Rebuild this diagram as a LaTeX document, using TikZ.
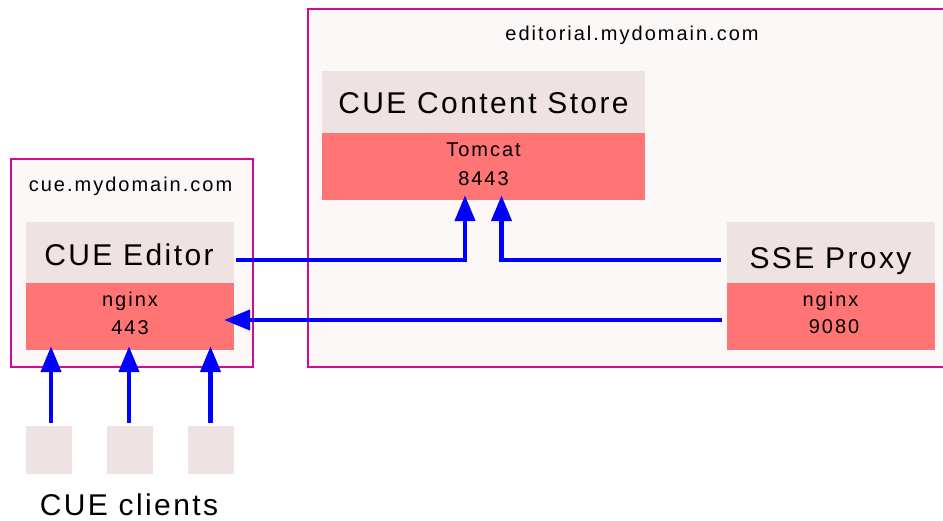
\documentclass[tikz,border=0pt]{standalone}
\usepackage{fontspec}
\setmainfont{Liberation Sans}
\newfontfamily\bigf{Liberation Sans}[LetterSpace=8]
\newfontfamily\smallf{Liberation Sans}[LetterSpace=10]
\usetikzlibrary{arrows.meta}
\definecolor{clusterc}{RGB}{210,10,150}
\definecolor{clusterbg}{RGB}{252,248,247}
\definecolor{lightc}{RGB}{238,226,226}
\definecolor{salmonc}{RGB}{255,117,117}
\definecolor{arrc}{RGB}{0,0,255}
\tikzset{
  cluster/.style={draw=clusterc, fill=clusterbg, line width=1.3pt},
  hdr/.style={fill=lightc, inner sep=0pt, minimum width=#1, minimum height=61pt},
  port/.style={fill=salmonc, inner sep=0pt, minimum width=#1, minimum height=67pt},
  client/.style={fill=lightc, inner sep=0pt, minimum width=46pt, minimum height=48pt},
  bigtxt/.style={anchor=base, inner sep=0pt, font=\bigf\fontsize{30}{36}\selectfont},
  smalltxt/.style={anchor=base, inner sep=0pt, font=\smallf\fontsize{20}{24}\selectfont},
  arr/.style={draw=arrc, line width=4.5pt, -{Triangle[length=26pt,width=20pt]}}
}
\begin{document}
\begin{tikzpicture}[x=1pt,y=-1pt]
\clip (0,0) rectangle (943,520);
\fill[white] (0,0) rectangle (943,520);
% clusters
\draw[cluster] (11,159) rectangle (253,367);
\draw[cluster] (308,9) rectangle (960,367);
\node[smalltxt] (cueLbl) at (130.5,191.7) {cue.mydomain.com};
\node[smalltxt] (edLbl) at (632,40) {editorial.mydomain.com};
% CUE Editor
\node[hdr=208pt] (edT) at (130,252.5) {};
\node[port=208pt] (edB) at (130,316.5) {};
\node[bigtxt] (edT1) at (129,265) {CUE Editor};
\node[smalltxt] (edB1) at (130,306) {nginx};
\node[smalltxt] (edB2) at (130,334) {443};
% CUE Content Store
\node[hdr=323pt, minimum height=62pt] (csT) at (483.5,102) {};
\node[port=323pt] (csB) at (483.5,166.5) {};
\node[bigtxt] (csT1) at (483.5,113) {CUE Content Store};
\node[smalltxt] (csB1) at (483.5,156.7) {Tomcat};
\node[smalltxt] (csB2) at (483.5,185) {8443};
% SSE Proxy
\node[hdr=208pt] (sseT) at (830.5,252.5) {};
\node[port=208pt] (sseB) at (830.5,316.5) {};
\node[bigtxt] (sseT1) at (830.5,268) {SSE Proxy};
\node[smalltxt] (sseB1) at (830.5,306) {nginx};
\node[smalltxt] (sseB2) at (834,333) {9080};
% clients
\node[client] (cl1) at (49,450) {};
\node[client] (cl2) at (130,450) {};
\node[client] (cl3) at (211,450) {};
\node[bigtxt, text depth=0pt] (clLbl) at (129,515.5) {CUE clients};
% connectors
\draw[arr] ([xshift=2pt,yshift=-7.5pt]edT.east) -| ([xshift=-18.5pt,yshift=5pt]csB.south);
\draw[arr] ([xshift=-5pt,yshift=-7.5pt]sseT.west) -| ([xshift=18pt,yshift=5pt]csB.south);
\draw[arr] ([xshift=-4pt,yshift=-3.5pt]sseB.west) -- ([xshift=-10pt,yshift=-3.5pt]edB.east);
\draw[arr] ([xshift=2pt,yshift=3pt]cl1.north) -- ([xshift=2pt,yshift=4pt]cl1.north |- edB.south);
\draw[arr] ([xshift=-1pt,yshift=3pt]cl2.north) -- ([xshift=-1pt,yshift=4pt]cl2.north |- edB.south);
\draw[arr] ([xshift=-0.5pt,yshift=3pt]cl3.north) -- ([xshift=-0.5pt,yshift=4pt]cl3.north |- edB.south);
\end{tikzpicture}
\end{document}
